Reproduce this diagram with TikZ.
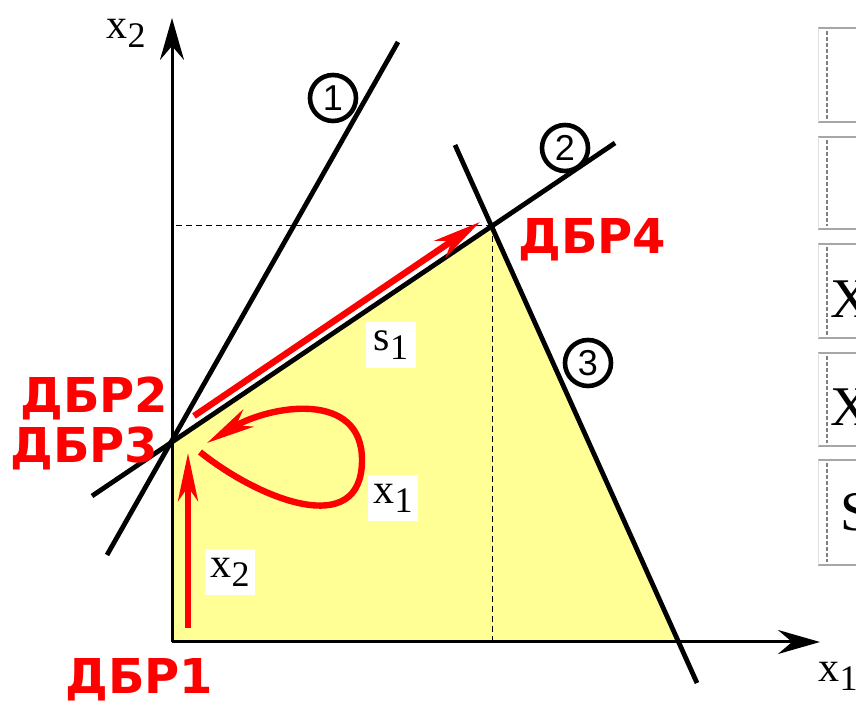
\documentclass[tikz,border=0pt]{standalone}
\usepackage{fontspec}
\setmainfont{Liberation Serif}
\newfontfamily\dbrfont{DejaVu Sans}
\newfontfamily\circfont{Liberation Sans}
\usepackage{tikz}
\usetikzlibrary{arrows.meta,positioning}
\definecolor{feasyellow}{RGB}{255,255,150}
\definecolor{dbrred}{RGB}{255,0,0}
\newcommand{\vlab}[2]{{\fontsize{21}{21}\selectfont #1\raisebox{-4.5pt}{\fontsize{18}{18}\selectfont #2}}}

\begin{document}
\begin{tikzpicture}[x=0.5pt,y=-0.5pt,
  axis/.style={line width=1.5pt,-{Stealth[length=21pt,width=12pt,inset=7pt]}},
  bound/.style={line width=2.4pt},
  move/.style={dbrred,line width=3.2pt,-{Stealth[length=24pt,width=10pt,inset=7pt]}},
  dbr/.style={text=dbrred,anchor=base west,inner sep=0pt,font=\dbrfont\bfseries\fontsize{24}{24}\selectfont},
  num/.style={circle,draw,line width=2.3pt,fill=white,minimum size=23pt,inner sep=0pt,font=\circfont\fontsize{18}{18}\selectfont},
  var/.style={fill=white,inner sep=2pt,minimum width=25pt,minimum height=23pt},
  cell/.style={draw=gray!70,line width=1pt},
  celltext/.style={anchor=base west,inner sep=0pt,font=\fontsize{28}{28}\selectfont}]
\useasboundingbox (0,0) rectangle (856,704);
\clip (0,0) rectangle (856,704);
\coordinate (O) at (172,642);
\coordinate (D3) at (172,442);
\coordinate (D4) at (492,226);
\coordinate (C3) at (678,642);
\fill[feasyellow] (O) -- (D3) -- (D4) -- (C3) -- cycle;
\draw[dash pattern=on 3pt off 2pt,line width=0.5pt] (D4) -- (O |- D4);
\draw[dash pattern=on 3pt off 2pt,line width=0.5pt] (D4) -- (D4 |- O);
% osi
\coordinate (X1end) at (820,642);
\coordinate (X2end) at (172,18);
\draw[axis] (O) -- (X1end);
\draw[axis] (O) -- (X2end);
\node (ax2) at (126,33) {\vlab{x}{2}};
\node (ax1) at (838,676) {\vlab{x}{1}};
% ogranicheniya
\coordinate (L1a) at (107,555); \coordinate (L1b) at (398,42);
\coordinate (L2a) at (92,496);  \coordinate (L2b) at (615,143);
\coordinate (L3a) at (455,145); \coordinate (L3b) at (697,683);
\foreach \a/\b in {L1a/L1b,L2a/L2b,L3a/L3b} \draw[bound] (\a) -- (\b);
\node[num] (n1) at (333,98) {1};
\node[num] (n2) at (565,148) {2};
\node[num] (n3) at (588,363) {3};
% perehody
\coordinate (up0) at (188,628); \coordinate (up1) at (188,453);
\coordinate (al0) at (194,416); \coordinate (al1) at (480,222);
\coordinate (lp0) at (200,452); \coordinate (lp1) at (207,443);
\draw[move] (up0) -- (up1);
\draw[move] (al0) -- (al1);
\draw[move] (lp0) .. controls (260,500) and (362,540) .. (362,460) .. controls (362,390) and (270,405) .. (lp1);
\node[var] (s1) at (391,345) {\vlab{s}{1}};
\node[var] (x1) at (393,498) {\vlab{x}{1}};
\node[var] (x2) at (230,572) {\vlab{x}{2}};
\node[dbr] (dbr1) at (65,693) {ДБР1};
\node[dbr] (dbr2) at (20,413) {ДБР2};
\node[dbr] (dbr3) at (10,463) {ДБР3};
\node[dbr] (dbr4) at (518,254) {ДБР4};
% tablica
\foreach \t/\b in {28/122,137/229,244/338,353/446,460/565} {
  \draw[cell] (856,\t) -- (818,\t);
  \draw[cell] (856,\b) -- (818,\b);
  \draw[gray!25,line width=0.5pt] (818,\t) -- (818,\b);
  \draw[gray,line width=1pt,dash pattern=on 2pt off 1pt] (827,\t+3) -- (827,\b-3);
}
\node[celltext] (t3) at (830,318) {X};
\node[celltext] (t4) at (830,426) {X};
\node[celltext] (t5) at (840,531) {S};
\end{tikzpicture}
\end{document}
